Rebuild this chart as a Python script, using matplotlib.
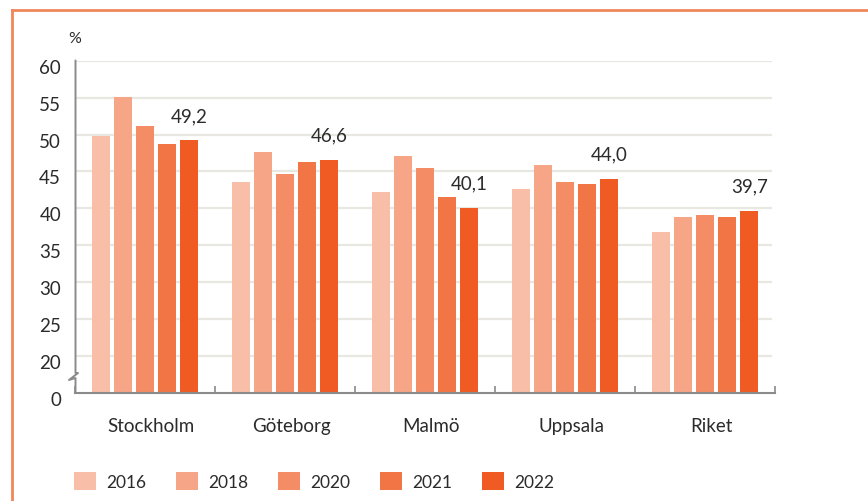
import matplotlib
matplotlib.use("Agg")
import matplotlib.pyplot as plt
import matplotlib.transforms as mtransforms
from matplotlib.patches import Patch
from matplotlib.lines import Line2D
import numpy as np

categories = ["Stockholm", "Göteborg", "Malmö", "Uppsala", "Riket"]
years = ["2016", "2018", "2020", "2021", "2022"]
values = {
    "2016": [49.8, 43.6, 42.2, 42.6, 36.8],
    "2018": [55.1, 47.7, 47.1, 45.9, 38.8],
    "2020": [51.1, 44.7, 45.5, 43.6, 39.1],
    "2021": [48.7, 46.3, 41.6, 43.3, 38.8],
    "2022": [49.2, 46.6, 40.1, 44.0, 39.7],
}
label_year = "2022"
colors = ["#F9BEA8", "#F6A587", "#F48C66", "#F27546", "#F05B24"]
ytick_vals = [20, 25, 30, 35, 40, 45, 50, 55, 60]
axis_base = 15  # display position of the broken-axis "0"

plt.rcParams['font.family'] = ['Lato', 'DejaVu Sans']
text_color = "#2b2b2b"

W, H = 868, 502
fig = plt.figure(figsize=(W / 100, H / 100), dpi=100)
ax = fig.add_axes([75 / W, 1 - 394 / H, 700 / W, (394 - 61.7) / H])

x = np.arange(len(categories))
pitch = 0.158
width = 0.13
n = len(years)
for i, (yr, c) in enumerate(zip(years, colors)):
    v = np.array(values[yr])
    pos = x + (i - (n - 1) / 2) * pitch
    ax.bar(pos, v - axis_base, bottom=axis_base, width=width, color=c,
           zorder=3, label=yr)
    if yr == label_year:
        for px, val in zip(pos, v):
            ax.annotate(f"{val:.1f}".replace(".", ","), (px, val),
                        xytext=(0, 18), textcoords="offset points",
                        ha="center", va="center", fontsize=13.5,
                        color=text_color)

ax.set_xlim(-0.5, len(categories) - 0.5)
ax.set_ylim(axis_base, 60)
for g in ytick_vals:
    ax.axhline(g, color="#E9E7E1", lw=1.6, zorder=1, xmax=0.994)

ax.set_yticks([axis_base] + ytick_vals)
ax.set_yticklabels(["0"] + [str(v) for v in ytick_vals])
ax.tick_params(axis="y", length=0, pad=10, labelsize=13.5, labelcolor=text_color)
off = mtransforms.ScaledTranslation(0, -5 / 100, fig.dpi_scale_trans)
for lab in ax.get_yticklabels():
    lab.set_transform(lab.get_transform() + off)

ax.set_xticks(x)
ax.set_xticklabels(categories)
ax.tick_params(axis="x", length=0, pad=17, labelsize=13.5, labelcolor=text_color)
offx = mtransforms.ScaledTranslation(6 / 100, 0, fig.dpi_scale_trans)
for lab in ax.get_xticklabels():
    lab.set_transform(lab.get_transform() + offx)
ax.set_xticks(np.arange(-0.5, len(categories)), minor=True)
ax.tick_params(axis="x", which="minor", direction="in", length=5,
               color="#8a8a8a", width=1.2)

for s in ["top", "right", "left"]:
    ax.spines[s].set_visible(False)
ax.spines["bottom"].set_color("#8a8a8a")
ax.spines["bottom"].set_linewidth(1.5)
ax.spines["bottom"].set_zorder(4)

def fx(px):
    return px / W
def fy(py):
    return 1 - py / H
pts = [(75.5, 61.7), (75.5, 374), (78, 374), (69, 381), (75.5, 379), (75.5, 394)]
fig.add_artist(Line2D([fx(p[0]) for p in pts], [fy(p[1]) for p in pts],
                      color="#8a8a8a", lw=1.4))

fig.text(fx(75), fy(39), "%", ha="center", va="center", fontsize=11.5,
         color=text_color)

border = "#F0875A"
fig.add_artist(Line2D([fx(12), 1.0], [fy(11), fy(11)], color=border, lw=2))
fig.add_artist(Line2D([fx(12), fx(12)], [fy(11), 0], color=border, lw=2))

handles = [Patch(facecolor=c, edgecolor="none", label=yr) for yr, c in zip(years, colors)]
fig.legend(handles=handles, loc="center left", bbox_to_anchor=(fx(74), fy(482)),
           ncol=5, frameon=False, fontsize=12.5, handlelength=1.25,
           handleheight=1.25, handletextpad=0.6, columnspacing=1.72,
           borderpad=0, borderaxespad=0, labelcolor=text_color)

fig.savefig("out.png", dpi=100)
